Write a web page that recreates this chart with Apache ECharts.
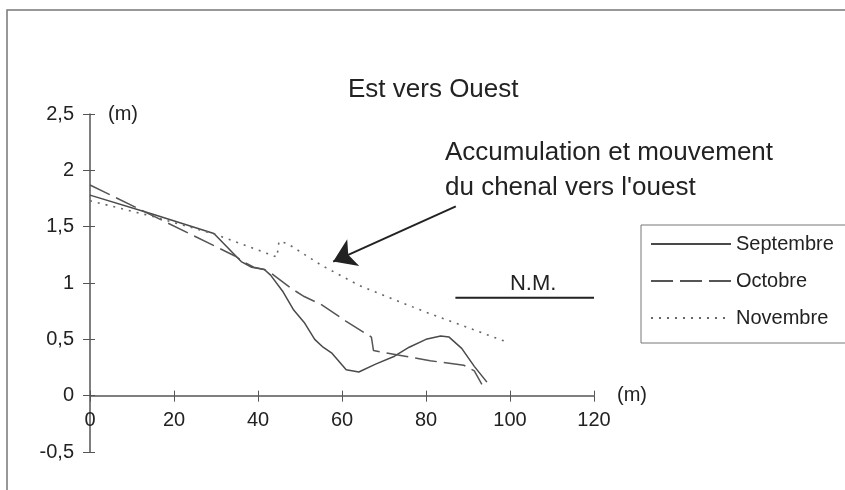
<!DOCTYPE html>
<html>
<head>
<meta charset="utf-8">
<script src="https://cdn.jsdelivr.net/npm/echarts@6/dist/echarts.min.js"></script>
<style>
  html, body { margin: 0; padding: 0; background: #fff; }
  #chart { width: 845px; height: 490px; }
</style>
</head>
<body>
<div id="chart"></div>
<script>
// Beach profile, east to west: distance (m) and elevation (m)
const xTicks = [0, 20, 40, 60, 80, 100, 120];
const yTicks = [-0.5, 0, 0.5, 1, 1.5, 2, 2.5];

const monthNames = ['Septembre', 'Octobre', 'Novembre'];

const septX = [0, 15, 29.5, 36, 38.5, 41.5, 43, 46, 48.5, 51, 53.5, 55.5, 57.5, 61, 64, 68, 72.5, 76, 80, 83.5, 85.5, 88.5, 91.5, 94.5];
const septY = [1.78, 1.61, 1.44, 1.19, 1.14, 1.12, 1.07, 0.92, 0.76, 0.65, 0.50, 0.43, 0.38, 0.23, 0.21, 0.28, 0.35, 0.43, 0.50, 0.53, 0.52, 0.42, 0.26, 0.12];

const octX = [0, 34.5, 37, 39, 41.5, 43, 48, 51, 55, 61, 67, 67.5, 75, 81, 89, 91.5, 93.3];
const octY = [1.87, 1.24, 1.18, 1.14, 1.12, 1.09, 0.95, 0.88, 0.81, 0.66, 0.52, 0.40, 0.35, 0.31, 0.27, 0.22, 0.10];

const novX = [0, 15, 30, 44.5, 45, 47, 55, 64, 80, 99];
const novY = [1.73, 1.59, 1.43, 1.23, 1.37, 1.35, 1.16, 0.98, 0.74, 0.48];

// Mean sea level (N.M.) marker
const nmX = [87, 105.5, 120];
const nmY = [0.87, 0.87, 0.87];
const nmText = 'N.M.';

// Annotation arrow: tail and head, in axis units
const arrowTail = [87.1, 1.68];
const arrowHead = [57.9, 1.19];

const FONT = '"Liberation Sans", Arial, sans-serif';
const INK = '#222';
const pair = (xs, ys) => xs.map((x, i) => [x, ys[i]]);
const comma = v => String(v).replace('.', ',');

// plot area
const GRID = { left: 90, right: 251, top: 114, bottom: 38 };
const plotH = 490 - GRID.top - GRID.bottom;
const yMin = yTicks[0], yMax = yTicks[yTicks.length - 1];
// x axis sits on the zero elevation line
const xAxisOffset = -plotH * (0 - yMin) / (yMax - yMin);

const chart = echarts.init(document.getElementById('chart'), null, { renderer: 'canvas' });

const xCommon = {
  type: 'value',
  position: 'bottom',
  offset: xAxisOffset,
  min: xTicks[0], max: xTicks[xTicks.length - 1],
  interval: xTicks[1] - xTicks[0],
  splitLine: { show: false }
};
const yCommon = {
  type: 'value',
  position: 'left',
  min: yMin, max: yMax,
  interval: yTicks[1] - yTicks[0],
  splitLine: { show: false }
};

const nmData = pair(nmX, nmY).map((p, i) => i === 1
  ? { value: p, label: { show: true, position: 'top', distance: 2, formatter: nmText, fontFamily: FONT, fontSize: 22, color: INK } }
  : { value: p });

chart.setOption({
  animation: false,
  backgroundColor: '#fff',
  title: {
    text: 'Est vers Ouest',
    left: 348, top: 77, padding: 0,
    textStyle: { fontFamily: FONT, fontSize: 26, fontWeight: 'normal', color: INK }
  },
  grid: GRID,
  xAxis: [
    Object.assign({}, xCommon, {
      name: '(m)', nameLocation: 'end', nameGap: 23,
      nameTextStyle: { fontFamily: FONT, fontSize: 20, color: INK, align: 'left', verticalAlign: 'middle', padding: [0, 0, 12, 0] },
      axisLine: { onZero: false, lineStyle: { color: '#555', width: 1.5 } },
      axisTick: { show: true, inside: false, length: 6, lineStyle: { color: '#555', width: 1 } },
      axisLabel: { fontFamily: FONT, fontSize: 20, color: INK, margin: 15 }
    }),
    Object.assign({}, xCommon, {
      axisLine: { show: false, onZero: false },
      axisTick: { show: true, inside: true, length: 5, lineStyle: { color: '#555', width: 1 } },
      axisLabel: { show: false }
    })
  ],
  yAxis: [
    Object.assign({}, yCommon, {
      name: '(m)', nameLocation: 'end', nameGap: 0,
      nameTextStyle: { fontFamily: FONT, fontSize: 20, color: INK, align: 'left', verticalAlign: 'middle', padding: [0, 0, 0, 18] },
      axisLine: { onZero: false, lineStyle: { color: '#555', width: 1.5 } },
      axisTick: { show: true, inside: false, length: 7, lineStyle: { color: '#555', width: 1 } },
      axisLabel: { fontFamily: FONT, fontSize: 20, color: INK, margin: 16, formatter: comma }
    }),
    Object.assign({}, yCommon, {
      axisLine: { show: false, onZero: false },
      axisTick: { show: true, inside: true, length: 5, lineStyle: { color: '#555', width: 1 } },
      axisLabel: { show: false }
    })
  ],
  legend: {
    data: monthNames,
    orient: 'vertical',
    left: 641, top: 225,
    padding: [9, 60, 15, 9],
    itemWidth: 80, itemHeight: 18, itemGap: 17,
    itemStyle: { opacity: 0 },
    borderColor: '#777', borderWidth: 1, borderRadius: 0,
    textStyle: { fontFamily: FONT, fontSize: 20, color: INK },
    selectedMode: false
  },
  graphic: [
    { type: 'rect', silent: true, shape: { x: 7, y: 10, width: 900, height: 600 },
      style: { fill: 'none', stroke: '#777', lineWidth: 1.5 } },
    { type: 'text', left: 445, top: 135, silent: true,
      style: { text: 'Accumulation et mouvement\ndu chenal vers l\'ouest', font: '26px ' + FONT, fill: INK, lineHeight: 35 } }
  ],
  series: [
    {
      name: monthNames[0], type: 'line', data: pair(septX, septY),
      symbol: 'none', showSymbol: false,
      lineStyle: { color: '#4a4a4a', width: 1.5, type: 'solid' },
      itemStyle: { color: '#4a4a4a' }
    },
    {
      name: monthNames[1], type: 'line', data: pair(octX, octY),
      symbol: 'none', showSymbol: false,
      lineStyle: { color: '#555', width: 1.5, type: [22, 7] },
      itemStyle: { color: '#555' }
    },
    {
      name: monthNames[2], type: 'line', data: pair(novX, novY),
      symbol: 'none', showSymbol: false,
      lineStyle: { color: '#666', width: 1.6, type: [2, 6] },
      itemStyle: { color: '#666' }
    },
    {
      name: nmText, type: 'line', data: nmData,
      symbol: 'circle', symbolSize: 1, showSymbol: true, silent: true,
      itemStyle: { color: 'rgba(0,0,0,0)' },
      lineStyle: { color: INK, width: 2 },
      markLine: {
        silent: true, animation: false,
        symbol: ['none', 'arrow'], symbolSize: 22,
        lineStyle: { color: INK, width: 2, type: 'solid' },
        label: { show: false },
        data: [[{ coord: arrowTail }, { coord: arrowHead }]]
      }
    }
  ]
});
</script>
</body>
</html>
